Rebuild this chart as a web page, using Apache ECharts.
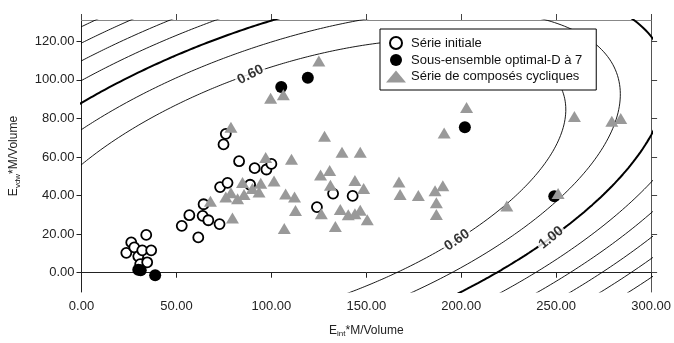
<!DOCTYPE html>
<html><head><meta charset="utf-8">
<script src="https://cdn.jsdelivr.net/npm/echarts@6/dist/echarts.min.js"></script>
<style>html,body{margin:0;padding:0;background:#fff}#c{width:674px;height:343px}</style>
</head><body><div id="c"></div>
<script>
// ---- data ----
const serieInitiale = [
  [23.6,10.3],[26.2,15.7],[27.8,13.1],[29.9,8.5],[30.9,4.4],[32.0,11.6],[34.1,19.6],[34.6,5.4],[36.7,11.6],
  [52.8,24.3],[56.8,29.8],[61.5,18.3],[63.8,29.5],[64.3,35.5],[66.8,27.2],[72.7,25.2],
  [73.0,44.4],[74.8,66.5],[76.0,72.0],[76.9,46.6],[83.0,57.8],[88.8,45.6],[91.2,54.2],[97.4,53.5],[100.0,56.4],
  [124.0,34.0],[132.5,41.0],[142.8,39.8]
];
const sousEnsemble = [
  [29.9,1.5],[31.2,1.3],[38.8,-1.3],[105.2,96.3],[119.2,101.1],[201.9,75.4],[249.0,39.6]
];
const composesCycliques = [
  [78.7,75.4],[99.6,90.5],[106.3,92.2],[125.0,109.7],[128.0,70.8],
  [97.0,59.7],[110.6,58.8],[137.2,62.5],[146.8,62.5],
  [130.7,53.0],[125.9,50.6],[144.0,47.8],[131.1,45.3],[148.6,43.6],
  [101.4,47.5],[94.4,46.4],[84.8,46.8],[93.5,41.8],[90.0,43.6],[78.7,41.5],[76.0,39.3],[82.2,38.4],[85.6,40.5],[67.9,37.0],[79.5,28.3],
  [107.5,40.8],[112.2,39.3],[112.7,32.2],[106.8,22.9],
  [126.3,30.5],[136.3,32.8],[140.5,30.0],[144.0,30.5],[146.8,32.4],[150.5,27.5],[133.7,24.0],
  [167.2,47.0],[167.8,40.5],[177.4,40.0],[186.2,42.5],[190.3,45.1],[186.9,36.3],[186.9,30.2],
  [191.0,72.4],[202.8,85.7],[224.0,34.6],[251.0,41.0],[259.6,81.0],[279.3,78.5],[284.0,80.0]
];
// contour levels of the prediction variance of the D-optimal subset
const contourLevels = [0.6,0.8,1.0,1.2,1.4,1.6,1.8,2.0];
const contourLabelTexts = ['0.60','0.60','1.00'];
const contourLabelPos = [[89.0,102.6],[197.8,16.9],[247.3,18.1]];
const xTickValues = [0,50,100,150,200,250,300];
const yTickValues = [0,20,40,60,80,100,120];

// ---- prediction variance d(x,y) = [1 x y](X'X)^-1[1 x y]' of the 7-point subset ----
const n = sousEnsemble.length;
const mx = sousEnsemble.reduce((s,p)=>s+p[0],0)/n;
const my = sousEnsemble.reduce((s,p)=>s+p[1],0)/n;
let Sxx=0,Syy=0,Sxy=0;
sousEnsemble.forEach(p=>{const dx=p[0]-mx,dy=p[1]-my;Sxx+=dx*dx;Syy+=dy*dy;Sxy+=dx*dy;});
const det = Sxx*Syy-Sxy*Sxy;
const A11=Syy/det, A22=Sxx/det, A12=-Sxy/det;
function contour(level){
  const pts=[];
  for(let i=0;i<=720;i++){
    const t=i/720*2*Math.PI, ux=Math.cos(t), uy=Math.sin(t);
    const q=A11*ux*ux+2*A12*ux*uy+A22*uy*uy;
    const r=Math.sqrt((level-1/n)/q);
    pts.push([mx+r*ux, my+r*uy]);
  }
  return pts;
}
const contourSeries = contourLevels.map(lv=>({
  type:'line', name:'c'+lv, data:contour(lv), showSymbol:false, symbol:'none', silent:true,
  clip:true, z:1, animation:false,
  lineStyle:{color:'#000', width: Math.abs(lv-1.0)<1e-9 ? 2 : 0.9}
}));
const labelRot=[27,34,39];
const labelSeries = {
  type:'scatter', name:'labels', silent:true, z:3, animation:false, symbolSize:1,
  itemStyle:{color:'rgba(0,0,0,0)'},
  data: contourLabelPos.map((p,i)=>({value:p, label:{formatter:contourLabelTexts[i], rotate:labelRot[i]}})),
  label:{show:true, position:'inside', fontFamily:'Liberation Sans, Arial, sans-serif', fontSize:14, fontWeight:'bold',
    color:'#000', backgroundColor:'#fff', padding:[0,2]}
};

const font='Liberation Sans, Arial, sans-serif';
const nameRich = {
  m:{fontSize:12, fontFamily:font, color:'#222'},
  s:{fontSize:8, fontFamily:font, color:'#222', padding:[7,0,0,0]}
};
const chart = echarts.init(document.getElementById('c'), null, {renderer:'canvas'});
chart.setOption({
  animation:false,
  backgroundColor:'#fff',
  grid:{left:80, right:22, top:20, bottom:49, containLabel:false},
  legend:{
    orient:'vertical', left:380, top:29,
    data:['Série initiale','Sous-ensemble optimal-D à 7','Série de composés cycliques'],
    backgroundColor:'#fff', borderColor:'#000', borderWidth:1, borderRadius:0,
    padding:[7,14,7,6], itemGap:3.5, itemWidth:20, itemHeight:12,
    textStyle:{fontFamily:font, fontSize:13, color:'#111'}, z:10
  },
  xAxis:[{
    type:'value', min:0, max:300, interval:50, position:'bottom',
    name:'{m|E}{s|int}{m|*M/Volume}', nameLocation:'middle', nameGap:31,
    nameTextStyle:{rich:nameRich},
    axisLine:{show:true, lineStyle:{color:'#222', width:1}},
    axisTick:{show:true, length:5, lineStyle:{color:'#222'}},
    axisLabel:{fontFamily:font, fontSize:13, color:'#222', margin:8, formatter:v=>v.toFixed(2)},
    splitLine:{show:false}
  },{
    type:'value', min:0, max:300, interval:50, position:'top',
    axisLine:{show:true, onZero:false, lineStyle:{color:'#888', width:1}},
    axisTick:{show:true, length:6, lineStyle:{color:'#444'}},
    axisLabel:{show:false}, splitLine:{show:false}
  }],
  yAxis:[{
    type:'value', min:-10, max:131, interval:10, position:'left',
    name:'{m|E}{s|vdw}{m|*M/Volume}', nameLocation:'middle', nameGap:60, nameRotate:90,
    nameTextStyle:{rich:nameRich},
    axisLine:{show:true, onZero:false, lineStyle:{color:'#222', width:1}},
    axisTick:{show:true, length:5, customValues:yTickValues, lineStyle:{color:'#222'}},
    axisLabel:{fontFamily:font, fontSize:13, color:'#222', margin:7, customValues:yTickValues, formatter:v=>v.toFixed(2)},
    splitLine:{show:false}
  },{
    type:'value', min:-10, max:131, interval:10, position:'right',
    axisLine:{show:true, onZero:false, lineStyle:{color:'#555', width:1}},
    axisTick:{show:true, length:6, customValues:yTickValues, lineStyle:{color:'#444'}},
    axisLabel:{show:false}, splitLine:{show:false}
  }],
  series:[
    ...contourSeries,
    labelSeries,
    {type:'scatter', name:'Série initiale', data:serieInitiale, symbol:'circle', symbolSize:10, z:4,
      itemStyle:{color:'#fff', borderColor:'#000', borderWidth:1.8, opacity:1}},
    {type:'scatter', name:'Sous-ensemble optimal-D à 7', data:sousEnsemble, symbol:'circle', symbolSize:12, z:5,
      itemStyle:{color:'#000', opacity:1}},
    {type:'scatter', name:'Série de composés cycliques', data:composesCycliques, symbol:'triangle', symbolSize:[13,11], z:6,
      itemStyle:{color:'#999', opacity:1}}
  ]
});
</script></body></html>
